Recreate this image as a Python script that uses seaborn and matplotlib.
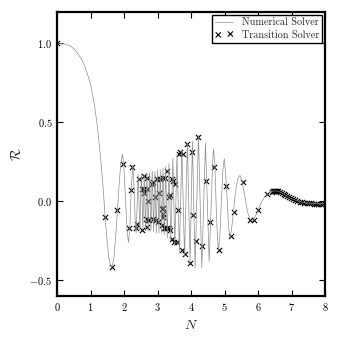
import matplotlib
matplotlib.use("Agg")
import matplotlib.pyplot as plt
import seaborn as sns

# Numerical solver curve
n_num = [0.0, 0.2, 0.4, 0.55, 0.7, 0.8, 0.9, 1.0, 1.1, 1.2, 1.3, 1.38, 1.43, 1.5, 1.56, 1.63,
         1.69, 1.75, 1.8, 1.85, 1.9, 1.95, 1.99, 2.04, 2.09, 2.13, 2.17, 2.21, 2.26, 2.3, 2.33, 2.36,
         2.42, 2.47, 2.515, 2.56, 2.60, 2.64, 2.68, 2.72, 2.76, 2.80, 2.84, 2.88, 2.92, 2.96,
         3.00, 3.04, 3.08, 3.12, 3.16, 3.20, 3.24, 3.29, 3.34, 3.395, 3.455, 3.515, 3.58, 3.65,
         3.725, 3.805, 3.89, 3.97,
         4.04, 4.12, 4.22, 4.32, 4.43, 4.54, 4.57, 4.605, 4.64, 4.67, 4.71, 4.745, 4.785, 4.82,
         4.86, 4.905, 4.95, 4.99, 5.03, 5.075, 5.12, 5.16, 5.2, 5.26, 5.32, 5.39, 5.46, 5.52,
         5.6, 5.68, 5.75, 5.82, 5.89, 5.95, 6.01, 6.1, 6.2, 6.3, 6.4, 6.5, 6.6, 6.7, 6.8, 6.9,
         7.0, 7.2, 7.4, 7.6, 7.8, 8.0]
r_num = [1.0, 0.997, 0.985, 0.955, 0.91, 0.87, 0.81, 0.74, 0.63, 0.48, 0.27, 0.07, -0.09, -0.27, -0.38, -0.42,
         -0.37, -0.22, -0.06, 0.10, 0.24, 0.30, 0.23, 0.02, -0.19, -0.26, -0.17, 0.07, 0.23, 0.08, -0.12, -0.20,
         0.17, -0.18, 0.17, -0.18, 0.17, -0.18, 0.18, -0.19, 0.18, -0.19, 0.19, -0.19, 0.19, -0.20,
         0.20, -0.20, 0.20, -0.20, 0.21, -0.21, 0.22, -0.23, 0.24, -0.25, 0.27, -0.28, 0.30, -0.32,
         0.33, -0.35, 0.37, -0.39,
         0.38, -0.42, 0.42, -0.42, 0.37, -0.38, -0.20, 0.0, 0.24, 0.33, 0.24, 0.0, -0.22, -0.31,
         -0.22, 0.0, 0.20, 0.27, 0.18, 0.02, -0.16, -0.23, -0.19, -0.08, 0.05, 0.14, 0.165, 0.13,
         0.04, -0.06, -0.11, -0.12, -0.105, -0.08, -0.05, -0.005, 0.03, 0.053, 0.063, 0.067, 0.064, 0.055, 0.042, 0.028,
         0.017, 0.002, -0.008, -0.013, -0.014, -0.014]

# Transition solver points
n_tr = [0.0, 1.43, 1.63, 1.80, 1.98, 2.16, 2.21, 2.25, 2.35, 2.38, 2.43, 2.53, 2.53, 2.58, 2.60, 2.60,
        2.65, 2.68, 2.68, 2.68, 2.71, 2.72, 2.75, 2.82, 2.87, 2.87, 2.93, 2.95, 2.98, 3.02, 3.05,
        3.07, 3.12, 3.12, 3.15, 3.17, 3.17, 3.17, 3.18, 3.22, 3.22, 3.27, 3.29, 3.33, 3.35, 3.37,
        3.37, 3.42, 3.42, 3.45, 3.49, 3.52, 3.57, 3.62, 3.65, 3.67, 3.72, 3.77, 3.82, 3.89, 3.97,
        4.02, 4.07, 4.15, 4.22, 4.32, 4.45, 4.57, 4.69, 4.82, 5.04, 5.18, 5.28, 5.54, 5.77, 5.88,
        6.01, 6.26, 6.41, 6.45, 6.48, 6.51, 6.54, 6.57, 6.61, 6.66, 6.71, 6.76, 6.81, 6.86, 6.92,
        6.98, 7.04, 7.10, 7.17, 7.24, 7.31, 7.38, 7.45, 7.52, 7.59, 7.66, 7.73, 7.80, 7.87, 7.94]
r_tr = [1.0, -0.10, -0.415, -0.057, 0.235, -0.17, 0.07, 0.22, -0.17, -0.14, 0.14, -0.18, 0.08, 0.05, 0.16, 0.08,
        -0.11, 0.15, 0.08, -0.16, 0.0, -0.12, -0.12, 0.11, 0.12, -0.11, 0.03, -0.12, 0.14, -0.13, 0.05,
        0.14, -0.05, -0.15, -0.04, 0.15, -0.10, -0.08, -0.17, 0.15, -0.17, -0.17, 0.19, -0.17, 0.03, 0.038,
        -0.18, 0.14, -0.24, 0.13, -0.26, 0.11, -0.26, -0.057, 0.30, 0.31, -0.31, 0.30, -0.33, 0.365, -0.39,
        0.31, -0.089, -0.25, 0.41, -0.28, 0.13, -0.13, 0.22, -0.31, 0.095, -0.22, -0.068, 0.12, -0.115, -0.115,
        -0.053, 0.044, 0.059, 0.064, 0.066, 0.067, 0.067, 0.066, 0.064, 0.060, 0.055, 0.048, 0.040, 0.033, 0.026,
        0.019, 0.012, 0.006, 0.001, -0.003, -0.006, -0.009, -0.011, -0.012, -0.013, -0.014, -0.014, -0.014, -0.014, -0.014]

sns.set_style("ticks")
plt.rcParams['font.family'] = ['cmr10', 'DejaVu Serif']
plt.rcParams['mathtext.fontset'] = 'cm'
plt.rcParams['axes.formatter.use_mathtext'] = True
plt.rcParams['xtick.direction'] = 'in'
plt.rcParams['ytick.direction'] = 'in'

fig = plt.figure(figsize=(3.4, 3.4), dpi=100)
ax = fig.add_axes([0.168, 0.129, 0.788, 0.836])

sns.lineplot(x=n_num, y=r_num, color='0.55', linewidth=0.5, estimator=None, sort=False,
             label='Numerical Solver', ax=ax)
sns.scatterplot(x=n_tr, y=r_tr, marker='x', color='k', s=14, linewidth=0.8,
                label='Transition Solver', ax=ax)

ax.set_xlim(0, 8)
ax.set_ylim(-0.6, 1.2)
ax.set_xticks(range(0, 9))
ax.set_yticks([-0.5, 0.0, 0.5, 1.0])
ax.tick_params(labelsize=7.5, top=True, right=True, length=4, width=0.8, colors='k')
for s in ax.spines.values():
    s.set_linewidth(1.6)
    s.set_color('k')
ax.set_xlabel('$N$', fontsize=10)
ax.set_ylabel(r'$\mathcal{R}$', fontsize=10)

leg = ax.legend(loc='upper right', fontsize=7.3, frameon=True, fancybox=False, edgecolor='k',
                framealpha=1, borderaxespad=0.3, handlelength=1.8, scatterpoints=2,
                borderpad=0.3, labelspacing=0.25)
leg.get_frame().set_linewidth(1.0)

fig.savefig('out.png', dpi=100)
